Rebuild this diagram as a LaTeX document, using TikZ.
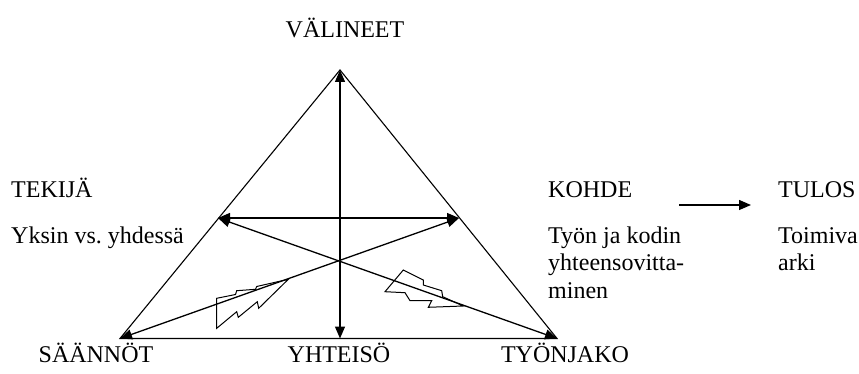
\documentclass[tikz,border=0pt]{standalone}
\usepackage{fontspec}
\setmainfont{Liberation Serif}
\usetikzlibrary{arrows.meta,positioning}

\begin{document}
\begin{tikzpicture}[
		x=1pt, y=-1pt,
		lbl/.style={font=\fontsize{24}{28}\selectfont, inner sep=0pt, anchor=base west},
		edge/.style={line width=1.1pt},
		arrow/.style={line width=1.3pt,-{Triangle[length=12pt,width=10pt]}},
		darrow/.style={line width=1.3pt,{Triangle[length=12pt,width=10pt]}-{Triangle[length=12pt,width=10pt]}},
		bolt/.style={line width=1pt, line join=miter}
		]
		\useasboundingbox (0,0) rectangle (859,374);
		
		\coordinate (V) at (340,70);
		\coordinate (S) at (120,338.5);
		\coordinate (T) at (557,338.5);
		\coordinate (Y) at (340,338.5);
		\coordinate (L) at (218,218);
		\coordinate (R) at (459,218);
		\coordinate (K) at (679,205);
		\coordinate (U) at (751,205);
		
		\node (valineet) [lbl, anchor=base] at (345,38) {VÄLINEET};
		\node (tekija) [lbl] at (11,197) {TEKIJÄ};
		\node (yksin) [lbl] at (11,243) {Yksin vs.\ yhdessä};
		\node (kohde) [lbl] at (548,197) {KOHDE};
		\node (tyon) [lbl] at (548,243) {Työn ja kodin};
		\node (yhteen) [lbl] at (548,270) {yhteensovitta-};
		\node (minen) [lbl] at (548,298) {minen};
		\node (tulos) [lbl] at (778,197) {TULOS};
		\node (toimiva) [lbl] at (778,243) {Toimiva};
		\node (arki) [lbl] at (778,270) {arki};
		\node (saannot) [lbl, anchor=base] at (96,362) {SÄÄNNÖT};
		\node (yhteiso) [lbl, anchor=base] at (339,362) {YHTEISÖ};
		\node (tyonjako) [lbl, anchor=base] at (565,362) {TYÖNJAKO};
		
		\draw [edge] (V) -- (S) -- (T) -- cycle;
		\draw [darrow] (V) -- (Y);
		\draw [darrow] (L) -- (R);
		\draw [darrow] (L) -- (T);
		\draw [darrow] (R) -- (S);
		\draw [arrow] (K) -- (U);
		
		% lightning
		\draw [bolt] (216.7,298.3) -- (216.7,328.3) -- (236.7,311.7) -- (238.3,317.3)
			-- (257.3,301.7) -- (258.7,308.3) -- (288.3,279.3) -- (256.7,286.5)
			-- (255.5,289.3) -- (236.7,290.7) -- (235.5,294.5) -- cycle;
		\draw [bolt] (403.3,270) -- (423.3,280) -- (423.3,285) -- (441.7,290.7)
			-- (442.7,296.7) -- (463.3,306) -- (428.3,307.3) -- (431.7,300.7)
			-- (410,300.7) -- (405,292.7) -- (385,291.7) -- cycle;
	\end{tikzpicture}
\end{document}
